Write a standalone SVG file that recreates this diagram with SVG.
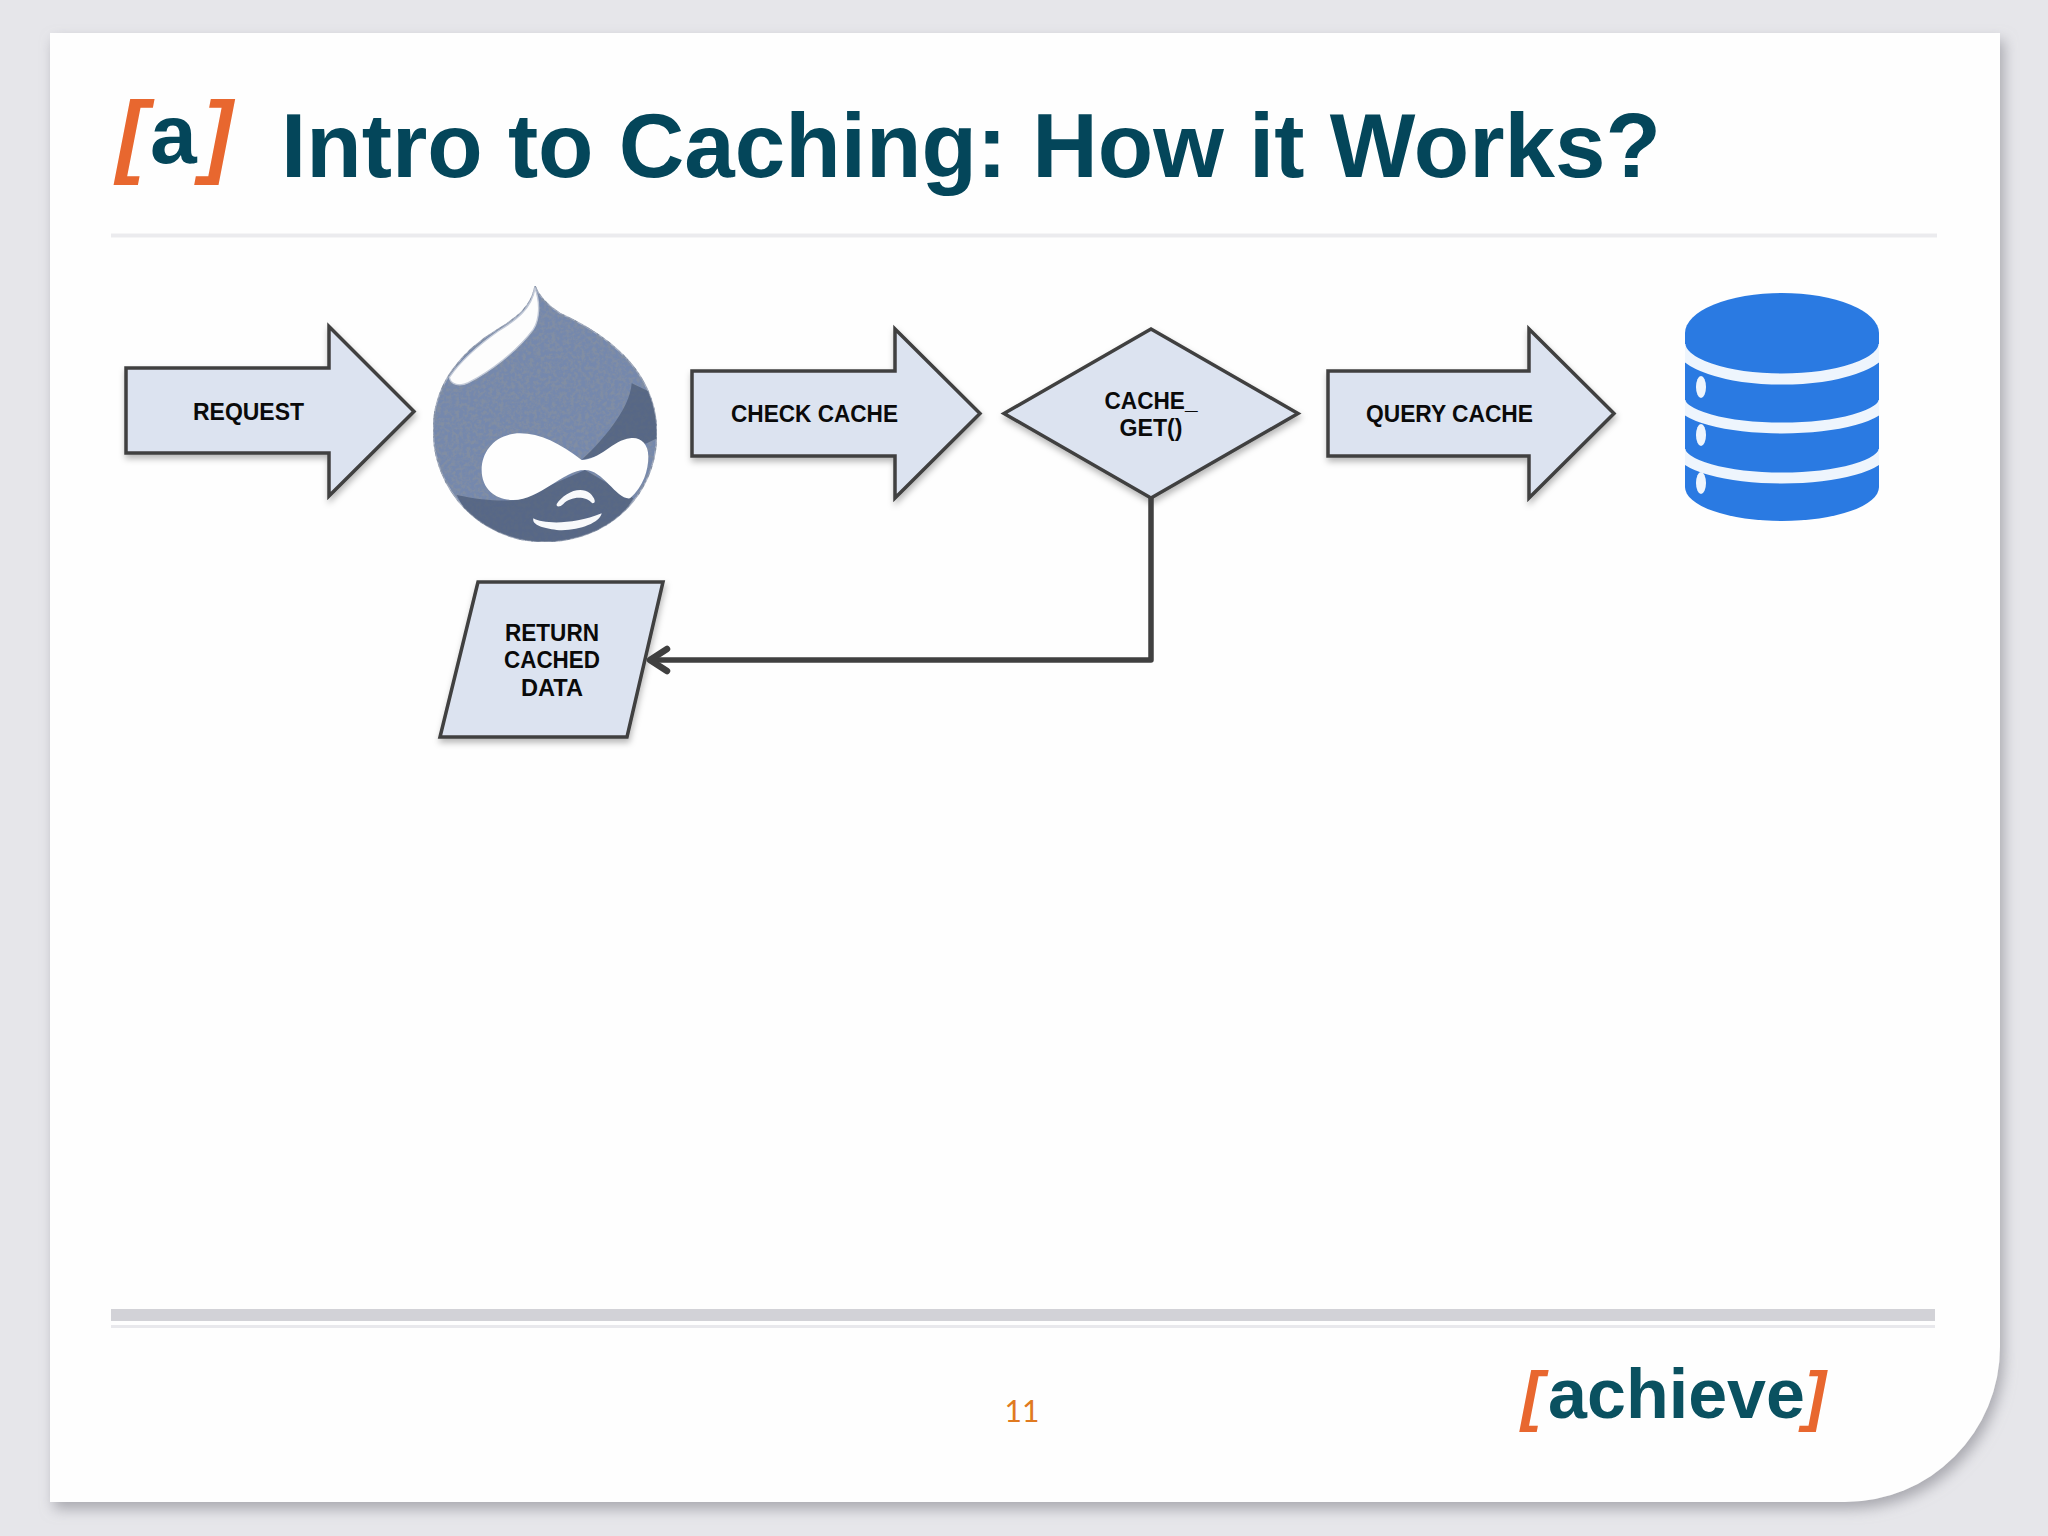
<svg xmlns="http://www.w3.org/2000/svg" width="2048" height="1536" viewBox="0 0 2048 1536">
<style>
.sh{fill:#dce3f0;stroke:#404040;stroke-width:3.5;stroke-linejoin:miter;filter:url(#ds)}
.lb{font-family:"Liberation Sans",Arial,sans-serif;font-weight:700;font-size:24.5px;fill:#0a0a0a;text-anchor:middle}
.br{fill:#e8672f;font-style:italic;font-weight:700;font-family:"Liberation Sans",Arial,sans-serif}
.te{fill:#04465a;font-weight:700;font-family:"Liberation Sans",Arial,sans-serif}
</style>
<defs>
<filter id="ss" x="-3%" y="-3%" width="106%" height="106%"><feDropShadow dx="4" dy="7" stdDeviation="7" flood-color="#8f8f96" flood-opacity=".7"/></filter>
<filter id="ds" x="-10%" y="-10%" width="120%" height="120%"><feDropShadow dx="1" dy="4" stdDeviation="3" flood-color="#000" flood-opacity=".28"/></filter>
<filter id="bl"><feGaussianBlur stdDeviation=".7"/></filter>
<filter id="gr" x="0" y="0" width="100%" height="100%"><feTurbulence type="fractalNoise" baseFrequency=".09" numOctaves="3" seed="4" result="n"/><feColorMatrix in="n" type="matrix" values="0 0 0 0 .22 0 0 0 0 .27 0 0 0 0 .37 3 0 0 0 -1.1" result="d"/><feComposite in="d" in2="SourceGraphic" operator="in" result="c"/><feMerge><feMergeNode in="SourceGraphic"/><feMergeNode in="c"/></feMerge></filter>
<clipPath id="dc"><path d="M405,48C415,75 440,105 480,130C600,185 770,290 770,490C770,680 620,815 435,815C240,815 100,660 100,480C100,340 190,240 290,180C350,145 395,110 405,48Z"/></clipPath>
<clipPath id="dbc"><path d="M1685,333A97,40 0 0 1 1879,333V487A97,34 0 0 1 1685,487Z"/></clipPath>
<marker id="oa" markerUnits="userSpaceOnUse" markerWidth="34" markerHeight="34" refX="22" refY="17" orient="auto"><path d="M4,6L21,17L4,28" fill="none" stroke="#404040" stroke-width="6.500" stroke-linecap="round" stroke-linejoin="round"/></marker>
</defs>
<rect width="2048" height="1536" fill="#e6e6ea"/>
<path id="slide" d="M50,33H2000V1347A155,155 0 0 1 1845,1502H50Z" fill="#fefefe" filter="url(#ss)"/>
<g id="header">
<rect x="111" y="233.500" width="1826" height="4" fill="#ebebee"/>
<text x="116" y="166" class="br" font-size="92">[</text>
<text x="150" y="163" class="te" font-size="84">a</text>
<text x="202" y="166" class="br" font-size="92">]</text>
<text x="281" y="177" class="te" font-size="91" textLength="1380" lengthAdjust="spacingAndGlyphs">Intro to Caching: How it Works?</text>
</g>
<g id="footer">
<rect x="111" y="1309" width="1824" height="12" fill="#d2d2d7"/>
<rect x="111" y="1325" width="1824" height="3" fill="#e8e8ec"/>
<text x="1022" y="1422" font-family="Lato,sans-serif" font-size="30" fill="#e07a20" text-anchor="middle">11</text>
<text x="1521" y="1418" class="br" font-size="66">[</text>
<text x="1548" y="1418" class="te" font-size="70" textLength="257" lengthAdjust="spacingAndGlyphs" style="fill:#0a5160">achieve</text>
<text x="1804" y="1418" class="br" font-size="66">]</text>
</g>
<g id="request">
<path class="sh" d="M126,368H329V326.500L414,411.500L329,496V453H126Z"/>
<text x="248.500" y="420" class="lb" textLength="111" lengthAdjust="spacingAndGlyphs">REQUEST</text>
</g>
<g id="drupal" transform="translate(400,270) scale(.33333)">
<path d="M405,48C415,75 440,105 480,130C600,185 770,290 770,490C770,680 620,815 435,815C240,815 100,660 100,480C100,340 190,240 290,180C350,145 395,110 405,48Z" fill="#7488ad" stroke="#aab2c2" stroke-width="4" filter="url(#gr)"/>
<g clip-path="url(#dc)" opacity=".7">
<path d="M695,340C690,420 600,520 545,570L740,520L780,500V380Z" fill="#4a5a76"/>
<path d="M170,675C240,690 300,695 350,690L555,600L700,685C640,790 540,830 435,830C300,830 210,760 170,675Z" fill="#4a5a76"/>
</g>
<path d="M405,55C422,100 418,150 400,178C350,245 270,305 205,338C180,350 152,345 148,322C190,260 250,215 295,183C350,150 395,115 405,55Z" fill="#fdfdfd" stroke="#c3cad8" stroke-width="4"/>
<path d="M545,570C480,520 420,490 360,490C290,490 245,540 245,600C245,660 290,690 340,690C420,690 490,600 555,600C610,600 650,690 690,685C730,650 745,600 745,560C745,520 720,500 690,505C640,510 600,570 545,570Z" fill="#fefefe"/>
<path d="M470,702C490,670 540,645 570,670C585,685 590,700 577,700C555,675 510,680 490,702C480,712 468,712 470,702Z" fill="#f8f9fb"/>
<path d="M400,745C430,762 520,765 605,730C600,760 530,785 470,780C430,775 395,765 400,745Z" fill="#f8f9fb"/>
</g>
<g id="check-cache">
<path class="sh" d="M692,371H895V329L980,413.500L895,498V456H692Z"/>
<text x="814.500" y="422" class="lb" textLength="167" lengthAdjust="spacingAndGlyphs">CHECK CACHE</text>
</g>
<g id="cache-get">
<path class="sh" d="M1151,329L1298,413.500L1151,498L1004,413.500Z"/>
<text x="1151" y="409" class="lb" textLength="93" lengthAdjust="spacingAndGlyphs">CACHE_</text>
<text x="1151" y="436" class="lb" textLength="63" lengthAdjust="spacingAndGlyphs">GET()</text>
</g>
<g id="query-cache">
<path class="sh" d="M1328,371H1529V329L1614,413.500L1529,498V456H1328Z"/>
<text x="1449.500" y="422" class="lb" textLength="167" lengthAdjust="spacingAndGlyphs">QUERY CACHE</text>
</g>
<g id="return-cached">
<path class="sh" d="M478,582H663L627,737H440Z"/>
<text x="552" y="641" class="lb" textLength="94" lengthAdjust="spacingAndGlyphs">RETURN</text>
<text x="552" y="668" class="lb" textLength="96" lengthAdjust="spacingAndGlyphs">CACHED</text>
<text x="552" y="696" class="lb" textLength="62" lengthAdjust="spacingAndGlyphs">DATA</text>
</g>
<g id="database" filter="url(#bl)">
<path d="M1685,333A97,40 0 0 1 1879,333V487A97,34 0 0 1 1685,487Z" fill="#2a7ae2"/>
<g clip-path="url(#dbc)" fill="none" stroke="#eef5fd" stroke-width="11">
<path d="M1680,344A102,35 0 0 0 1884,344"/>
<path d="M1680,400A102,28 0 0 0 1884,400"/>
<path d="M1680,449A102,29 0 0 0 1884,449"/>
</g>
<ellipse cx="1701" cy="387" rx="5" ry="11" fill="#eef5fd"/>
<ellipse cx="1701" cy="435" rx="5" ry="11" fill="#eef5fd"/>
<ellipse cx="1701" cy="483" rx="5" ry="11" fill="#eef5fd"/>
</g>
<g id="connectors">
<path id="c1" d="M1151,498V660H649" fill="none" stroke="#404040" stroke-width="5.500" stroke-linejoin="round" marker-end="url(#oa)"/>
</g>
</svg>
